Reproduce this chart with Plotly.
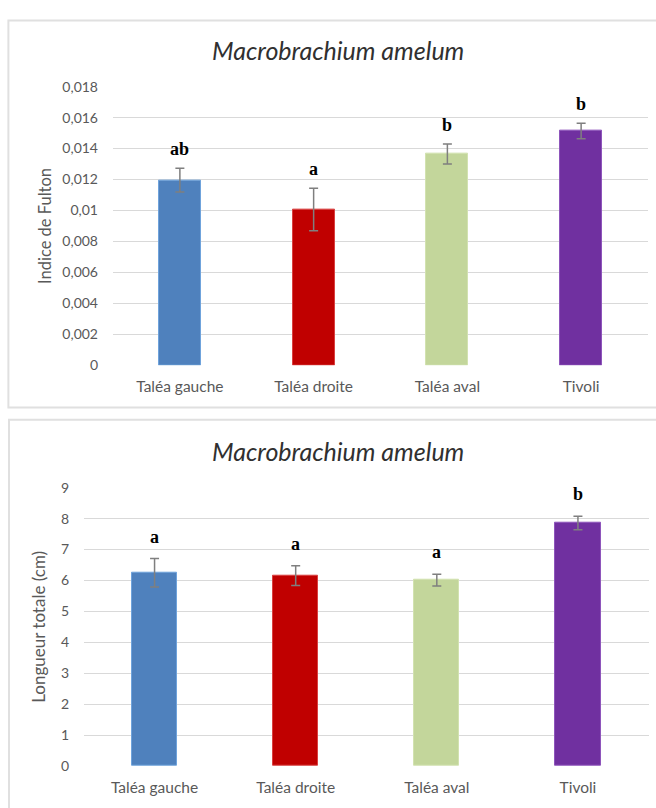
import plotly.graph_objects as go

# ---- data ----
categories = ["Taléa gauche", "Taléa droite", "Taléa aval", "Tivoli"]
fulton_values = [0.01196, 0.01006, 0.01365, 0.01513]
fulton_errors = [0.00077, 0.00137, 0.00065, 0.00050]
fulton_letters = ["ab", "a", "b", "b"]
length_values = [6.25, 6.16, 6.01, 7.86]
length_errors = [0.46, 0.32, 0.19, 0.22]
length_letters = ["a", "a", "a", "b"]
fulton_ticks = [0, 0.002, 0.004, 0.006, 0.008, 0.01, 0.012, 0.014, 0.016, 0.018]
fulton_ticktext = ["0", "0,002", "0,004", "0,006", "0,008", "0,01", "0,012", "0,014", "0,016", "0,018"]
length_ticks = list(range(0, 10))
title_text = "Macrobrachium amelum"
fulton_ylabel = "Indice de Fulton"
length_ylabel = "Longueur totale (cm)"

# ---- style ----
W, H = 656, 808
bar_colors = ["#4f81bd", "#c00000", "#c3d69b", "#7030a0"]
edge_colors = ["#6fa3dc", "#d94040", "#d2e2b0", "#8e55bb"]
font_family = "Lato, 'Open Sans', sans-serif"
tick_color = "#595959"
grid_color = "#d9d9d9"
err_color = "#7f7f7f"

def px_x(p):
    return p / W

def px_y(p):
    return 1 - p / H

fig = go.Figure()

fig.add_trace(go.Bar(
    x=categories, y=fulton_values, width=0.315,
    marker=dict(color=bar_colors, line=dict(color=edge_colors, width=1)),
    error_y=dict(type="data", array=fulton_errors, color=err_color, thickness=1.5, width=4.5),
    xaxis="x", yaxis="y", showlegend=False, hoverinfo="skip",
))
fig.add_trace(go.Bar(
    x=categories, y=length_values, width=0.32,
    marker=dict(color=bar_colors, line=dict(color=edge_colors, width=1)),
    error_y=dict(type="data", array=length_errors, color=err_color, thickness=1.5, width=4.5),
    xaxis="x2", yaxis="y2", showlegend=False, hoverinfo="skip",
))

ytick_font = dict(family=font_family, size=14, color=tick_color)
xtick_font = dict(family=font_family, size=15.5, color=tick_color)
axis_common = dict(showline=False, zeroline=False, ticks="")

fig.update_layout(
    width=W, height=H,
    margin=dict(l=0, r=0, t=0, b=0),
    paper_bgcolor="white", plot_bgcolor="white",
    bargap=0,
    xaxis=dict(domain=[px_x(113), px_x(648)], anchor="y", showgrid=False,
               ticklabelstandoff=10, tickfont=xtick_font, **axis_common),
    yaxis=dict(domain=[px_y(364), px_y(79.3)], anchor="x", range=[0, 0.018],
               tickvals=fulton_ticks, ticktext=fulton_ticktext,
               showgrid=True, gridcolor=grid_color, gridwidth=1.3,
               ticklabelstandoff=14, tickfont=ytick_font,
               title=dict(text=fulton_ylabel, font=dict(family=font_family, size=16.5, color=tick_color), standoff=6),
               **axis_common),
    xaxis2=dict(domain=[px_x(84), px_x(648.5)], anchor="y2", showgrid=False,
                ticklabelstandoff=10, tickfont=xtick_font, **axis_common),
    yaxis2=dict(domain=[px_y(773.3), px_y(489)], anchor="x2", range=[0, 9],
                tickvals=length_ticks,
                showgrid=True, gridcolor=grid_color, gridwidth=1.3,
                ticklabelstandoff=14, tickfont=ytick_font,
                title=dict(text=length_ylabel, font=dict(family=font_family, size=17, color=tick_color), standoff=10),
                **axis_common),
)

# panel borders
for y0, y1, x0 in [(11.7, 407, 8.4), (419.5, 830, 9)]:
    fig.add_shape(type="rect", xref="paper", yref="paper",
                  x0=px_x(x0), x1=1.02, y0=px_y(y1), y1=px_y(y0),
                  line=dict(color="#e0e0e0", width=2), fillcolor="rgba(0,0,0,0)", layer="below")

# titles
for ty in [42, 452]:
    fig.add_annotation(xref="paper", yref="paper", x=px_x(338), y=px_y(ty),
                       text="<i>" + title_text + "</i>", showarrow=False,
                       font=dict(family=font_family, size=25, color="#303030"),
                       xanchor="center", yanchor="middle")

# significance letters
for cat, v, e, lt in zip(categories, fulton_values, fulton_errors, fulton_letters):
    fig.add_annotation(x=cat, y=v + e, xref="x", yref="y", text="<b>" + lt + "</b>",
                       showarrow=False, yshift=19, yanchor="middle",
                       font=dict(family="Liberation Serif, serif", size=18, color="black"))
for cat, v, e, lt in zip(categories, length_values, length_errors, length_letters):
    fig.add_annotation(x=cat, y=v + e, xref="x2", yref="y2", text="<b>" + lt + "</b>",
                       showarrow=False, yshift=22, yanchor="middle",
                       font=dict(family="Liberation Serif, serif", size=18, color="black"))

fig.write_html("out.html", config={"displayModeBar": False},
               post_script="document.body.style.margin='0';document.body.style.overflow='hidden';")
